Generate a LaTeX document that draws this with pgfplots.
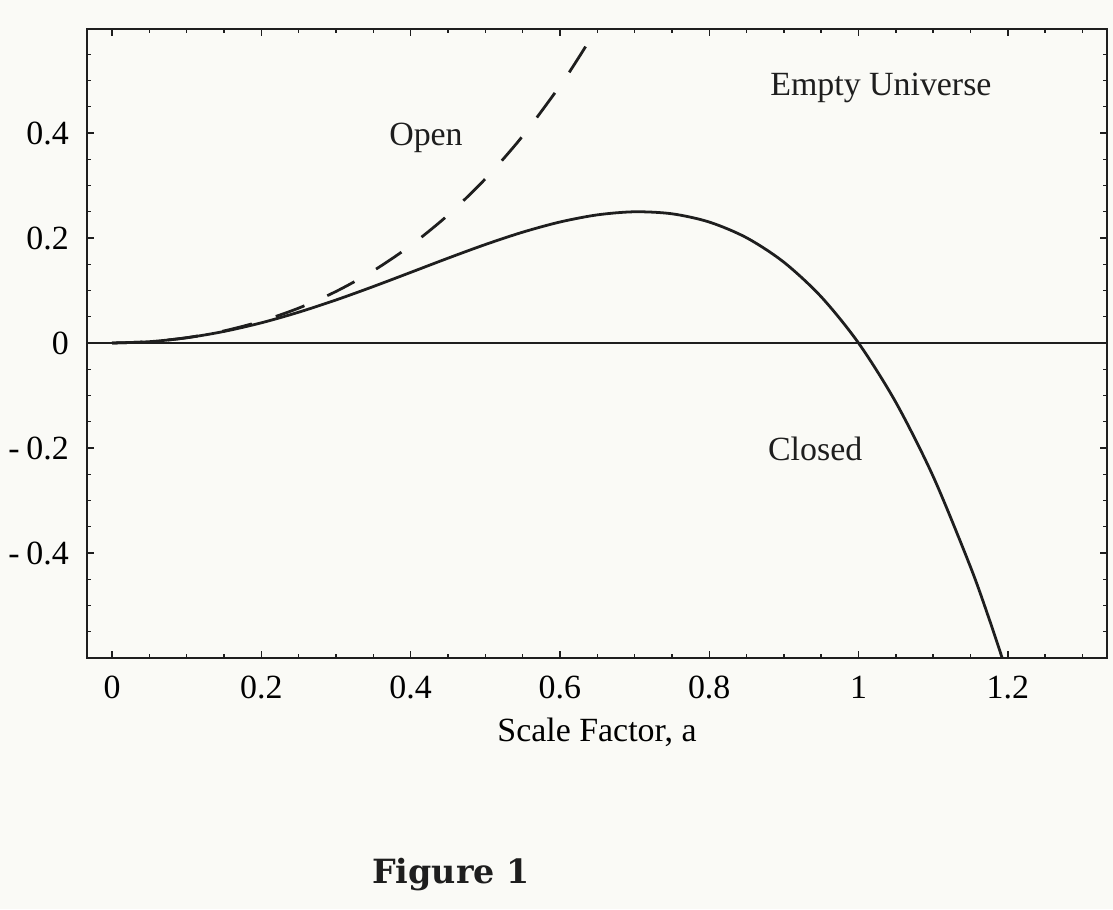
\documentclass[border=0pt]{standalone}
\usepackage{pgfplots}
\pgfplotsset{compat=1.18}
\usepackage{fontspec}
\setmainfont{Liberation Serif}
\newfontfamily\figfont{DejaVu Serif}
\definecolor{paper}{RGB}{250,250,246}
\definecolor{ink}{RGB}{30,30,30}
\begin{document}
\begin{tikzpicture}[font=\fontsize{12.2}{14}\selectfont]
\fill[paper] (-31.32pt,-90.36pt) rectangle (369.36pt,236.88pt);
\path[use as bounding box] (-31.32pt,-90.36pt) rectangle (369.36pt,236.88pt);
\begin{axis}[
 at={(0pt,0pt)}, anchor=south west,
 scale only axis, width=367.2pt, height=226.44pt,
 xmin=-0.0335, xmax=1.3329, ymin=-0.6, ymax=0.598,
 axis line style={ink, line width=0.7pt},
 xtick={0,0.2,0.4,0.6,0.8,1,1.2},
 xticklabels={0,0.2,0.4,0.6,0.8,1,1.2},
 minor xtick={0.05,0.1,0.15,0.25,0.3,0.35,0.45,0.5,0.55,0.65,0.7,0.75,0.85,0.9,0.95,1.05,1.1,1.15,1.25,1.3},
 ytick={-0.4,-0.2,0,0.2,0.4},
 yticklabels={{-\kern0.2em 0.4},{-\kern0.2em 0.2},0,0.2,0.4},
 minor ytick={-0.55,-0.5,-0.45,-0.35,-0.3,-0.25,-0.15,-0.1,-0.05,0.05,0.1,0.15,0.25,0.3,0.35,0.45,0.5,0.55},
 major tick length=2.6pt, minor tick length=1.4pt,
 tick style={ink, line width=0.5pt},
 tick align=inside,
 xticklabel style={yshift=-3pt},
 yticklabel style={xshift=-3pt},
 xlabel={Scale Factor, a},
 xlabel style={at={(axis description cs:0.5,0)}, anchor=base, yshift=-30.2pt},
 clip=true,
]
\addplot[ink, line width=0.5pt] coordinates {(-0.0335,0) (1.3329,0)};
\addplot[ink, line width=1pt, smooth] coordinates {
(0,0) (0.05,0.0025) (0.1,0.0099) (0.15,0.0220) (0.2,0.0384) (0.25,0.0586)
(0.3,0.0819) (0.35,0.1075) (0.4,0.1344) (0.45,0.1615) (0.5,0.1875)
(0.55,0.2110) (0.6,0.2304) (0.65,0.2440) (0.7,0.2499) (0.75,0.2461)
(0.8,0.2304) (0.85,0.2005) (0.9,0.1539) (0.95,0.0880) (1.0,0)
(1.05,-0.1130) (1.1,-0.2541) (1.15,-0.4265) (1.175,-0.5255) (1.1925,-0.6002) (1.21,-0.6795)};
\addplot[ink, line width=1pt, dash pattern=on 11pt off 9pt, smooth] coordinates {
(0,0) (0.05,0.0025) (0.1,0.0101) (0.15,0.0230) (0.2,0.0416) (0.25,0.0664)
(0.3,0.0981) (0.35,0.1375) (0.4,0.1856) (0.45,0.2435) (0.5,0.3125)
(0.55,0.3940) (0.6,0.4896) (0.625,0.5432) (0.65,0.6010) (0.675,0.6632)};
\node[anchor=base, ink] at (axis cs:1.030,0.471) {Empty Universe};
\node[anchor=base, ink] at (axis cs:0.4206,0.376) {Open};
\node[anchor=base, ink] at (axis cs:0.942,-0.224) {Closed};
\end{axis}
\node[anchor=base, ink, font=\figfont\bfseries\fontsize{12}{14}\selectfont] at (131pt,-81pt) {Figure 1};
\end{tikzpicture}
\end{document}
